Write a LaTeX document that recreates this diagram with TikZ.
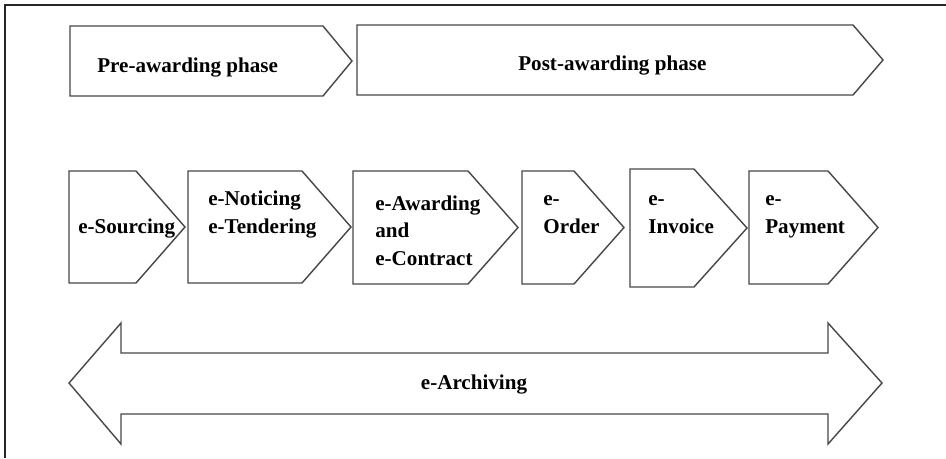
\documentclass[tikz,border=0pt]{standalone}
\usepackage{fontspec}
\setmainfont{Liberation Serif}
\usepackage{tikz}
\def\chevron(#1:#2:#3:#4:#5){\draw[arrowbox] (#1,#2) -- (#4,#2) -- (#5,{(#2+#3)/2}) -- (#4,#3) -- (#1,#3) -- cycle;}
\tikzset{
	arrowbox/.style={line width=0.8pt, color=black!72, line join=miter},
	label/.style={inner sep=0pt, anchor=base west, align=left, font=\fontsize{12}{15.6}\selectfont\bfseries}
}
\begin{document}
\begin{tikzpicture}[x=0.02cm, y=-0.02cm]
			%%%%% START %%%%%
			\useasboundingbox (0, 0) rectangle (946, 458);
			
			\draw[line width=0.6pt, color=black!85] (5, 458) -- (5, 5) -- (946, 5);
			
			\chevron(70:26:96:323:352);
			\chevron(357:25:95:853:883);
			\node[label] (pre) at (97, 72.5) {Pre-awarding phase};
			\node[label] (post) at (518, 70) {Post-awarding phase};
			
			\chevron(69:171:283:136:185);
			\chevron(188:171:283:302:351);
			\chevron(353:171:284:468:518);
			\chevron(522:171:284:574:624);
			\chevron(630:169:287:694:747);
			\chevron(749:171:284:828:878);
			
			% multi-line labels sit on their last line
			\node[label] (sourcing) at (78, 233) {e-Sourcing};
			\node[label] (tendering) at (208, 233) {e-Noticing\\e-Tendering};
			\node[label] (contract) at (375, 265) {e-Awarding\\and\\e-Contract};
			\node[label] (order) at (543, 233) {e-\\Order};
			\node[label] (invoice) at (648, 233) {e-\\Invoice};
			\node[label] (payment) at (765, 233) {e-\\Payment};
			
			\draw[arrowbox] (69, 383) -- (121, 323) -- (121, 353) -- (828, 353) -- (828, 323)
				-- (882, 383) -- (828, 444) -- (828, 414) -- (121, 414) -- (121, 444) -- cycle;
			\node[label, anchor=base] (archiving) at (474, 389) {e-Archiving};
			
			%%%%% END %%%%%
		\end{tikzpicture}
\end{document}
